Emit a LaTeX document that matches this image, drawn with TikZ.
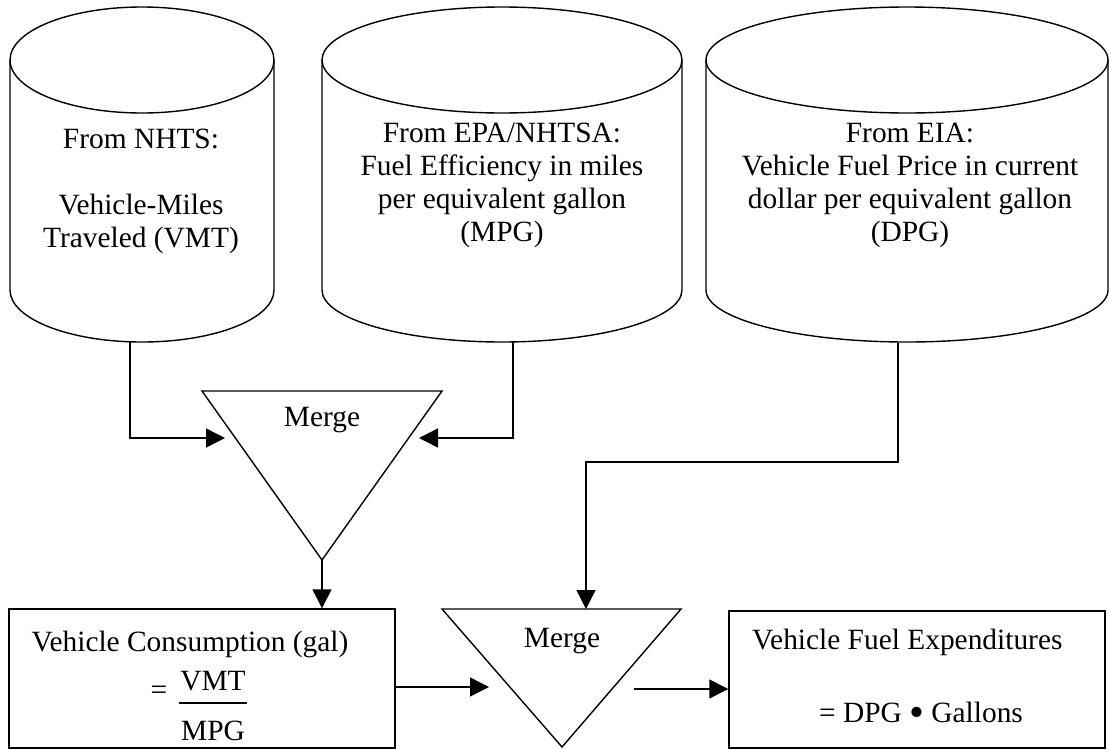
\documentclass[tikz,border=0pt]{standalone}
\usepackage{fontspec}
\usepackage{graphicx}
\setmainfont{Liberation Serif}
\usetikzlibrary{arrows.meta,calc}
\newcommand{\bigdot}{\raisebox{-4pt}{\scalebox{1.45}{\textbullet}}}
\begin{document}
\begin{tikzpicture}[x=1pt,y=1pt,
  every node/.style={font=\fontsize{29.4}{33}\selectfont, inner sep=0pt},
  outl/.style={line width=1.4pt, line join=miter},
  arr/.style={line width=1.4pt, -{Triangle[length=19pt,width=19pt]}},
  boxnode/.style={draw, line width=1.4pt, rectangle}]
\useasboundingbox (0,0) rectangle (1109,-750);
% cylinders
\foreach \cx/\rx in {142/132, 502/180, 907/201}{
  \draw[outl, fill=white] (\cx-\rx,-60) -- (\cx-\rx,-290)
     arc[start angle=180, end angle=360, x radius=\rx, y radius=52] -- (\cx+\rx,-60);
  \draw[outl] (\cx,-60) ellipse [x radius=\rx, y radius=53];
}
\node[align=center] (t1) at (141,-191) {From NHTS:\\[33pt]Vehicle-Miles\\Traveled (VMT)};
\node[align=center] (t2) at (502,-185) {From EPA/NHTSA:\\Fuel Efficiency in miles\\per equivalent gallon\\(MPG)};
\node[align=center] (t3) at (910,-185) {From EIA:\\Vehicle Fuel Price in current\\dollar per equivalent gallon\\(DPG)};
\coordinate (c1o) at (130,-342);
\coordinate (c2o) at (513,-342);
\coordinate (c3o) at (898,-343);
% merge 1
\coordinate (m1a) at (202,-391);
\coordinate (m1b) at (442,-391);
\coordinate (m1c) at (322,-560);
\draw[outl] (m1a) -- (m1b) -- (m1c) -- cycle;
\node (m1t) at (322,-420) {Merge};
\coordinate (m1l) at (225,-438);
\coordinate (m1r) at (419,-438);
% merge 2
\coordinate (m2a) at (442,-609);
\coordinate (m2b) at (681,-609);
\coordinate (m2c) at (562,-747);
\draw[outl] (m2a) -- (m2b) -- (m2c) -- cycle;
\node (m2t) at (562,-641) {Merge};
\coordinate (m2in) at (586,-609);
\coordinate (m2l) at (489,-687);
\coordinate (m2o) at (634,-689);
\coordinate (c3k) at (898,-462);
% boxes
\node[boxnode, minimum width=386pt, minimum height=139pt] (b1) at (202,-678.5) {};
\node (b1t) at (190,-644) {Vehicle Consumption (gal)};
\node (b1eq) at (159,-693) {=};
\node (b1n) at (213,-681) {VMT};
\node (b1d) at (213,-731) {MPG};
\draw[line width=1.2pt] (179,-703) -- (247,-703);
\node[boxnode, minimum width=376pt, minimum height=137pt] (b3) at (917,-679.5) {};
\node[anchor=west] (b3t) at (752,-642) {Vehicle Fuel Expenditures};
\node (b3f) at (921,-714) {= DPG \bigdot\ Gallons};
% connectors
\draw[arr] (c1o) |- (m1l);
\draw[arr] (c2o) |- (m1r);
\draw[arr] (m1c) -- (m1c |- b1.north);
\draw[arr] (c3o) -- (c3k) -| (m2in);
\draw[arr] (b1.east |- m2l) -- (m2l);
\draw[arr] (m2o) -- (b3.west |- m2o);
\end{tikzpicture}
\end{document}
